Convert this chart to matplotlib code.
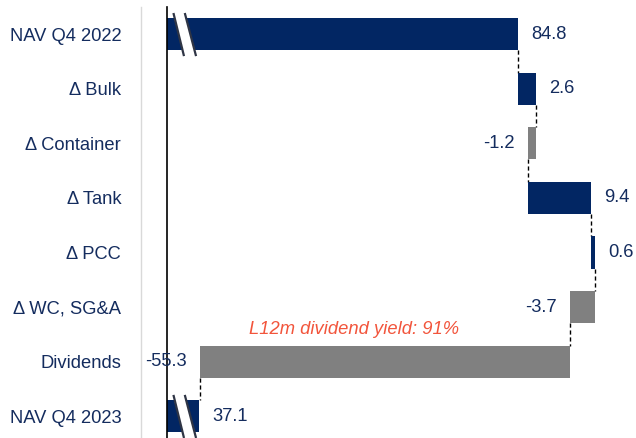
import matplotlib.pyplot as plt
from matplotlib.lines import Line2D

plt.rcParams['font.family'] = ['Liberation Sans', 'DejaVu Sans']

labels = ['NAV Q4 2022', 'Δ Bulk', 'Δ Container', 'Δ Tank', 'Δ PCC',
          'Δ WC, SG&A', 'Dividends', 'NAV Q4 2023']
values = [84.8, 2.6, -1.2, 9.4, 0.6, -3.7, -55.3, 37.1]
kinds = ['total', 'delta', 'delta', 'delta', 'delta', 'delta', 'delta', 'total']
note = 'L12m dividend yield: 91%'

navy = '#022663'
grey = '#808080'
txt = '#142c5e'
x0 = 32.3
fs = 13.2

fig = plt.figure(figsize=(6.36, 4.38), dpi=100)
ax = fig.add_axes([167 / 636, 0, 1 - 167 / 636, 1 - 7 / 438])

h = 0.59
running = 0
ends = []
for i, (v, k) in enumerate(zip(values, kinds)):
    if k == 'total':
        left, width = x0, v - x0
        running = v
        col = navy
    else:
        left = running if v > 0 else running + v
        width = abs(v)
        col = navy if v > 0 else grey
        running += v
    ax.barh(i, width, left=left, height=h, color=col, zorder=2)
    ends.append(running)
    if v > 0:
        ax.text(left + width + 2.0, i, f'{v:.1f}', va='center', ha='left',
                fontsize=fs, color=txt)
    else:
        ax.text(left - 2.0, i, f'{v:.1f}', va='center', ha='right',
                fontsize=fs, color=txt)

# connectors
for i in range(len(values) - 1):
    ax.plot([ends[i], ends[i]], [i + h / 2, i + 1 - h / 2], color='black',
            ls=(0, (3, 2)), lw=1, zorder=1)

# axis break marks on the total bars
for i in [0, 7]:
    ya, yb = i - 0.37, i + 0.38
    ax.fill([33.3, 34.8, 36.6, 35.0], [ya, ya, yb, yb], color='white', zorder=3)
    ax.plot([33.3, 34.8], [ya, yb], color='#2f3545', lw=1.6, zorder=4)
    ax.plot([35.0, 36.6], [ya, yb], color='#2f3545', lw=1.6, zorder=4)

ax.text(60.3, 5.42, note, ha='center', va='center', fontsize=fs,
        style='italic', color='#f2553c')

ax.set_xlim(x0, 102.4)
ax.set_ylim(7.4, -0.5)
ax.set_yticks(range(len(labels)))
ax.set_yticklabels(labels, fontsize=fs, color=txt)
ax.tick_params(axis='y', length=0, pad=33)
ax.set_xticks([])
for s in ['top', 'right', 'bottom']:
    ax.spines[s].set_visible(False)
ax.spines['left'].set_color('black')
ax.spines['left'].set_linewidth(1.2)

fig.add_artist(Line2D([141 / 636, 141 / 636], [0, 1 - 7 / 438],
                      color='#d9d9d9', lw=1))

fig.savefig('out.png', dpi=100)
